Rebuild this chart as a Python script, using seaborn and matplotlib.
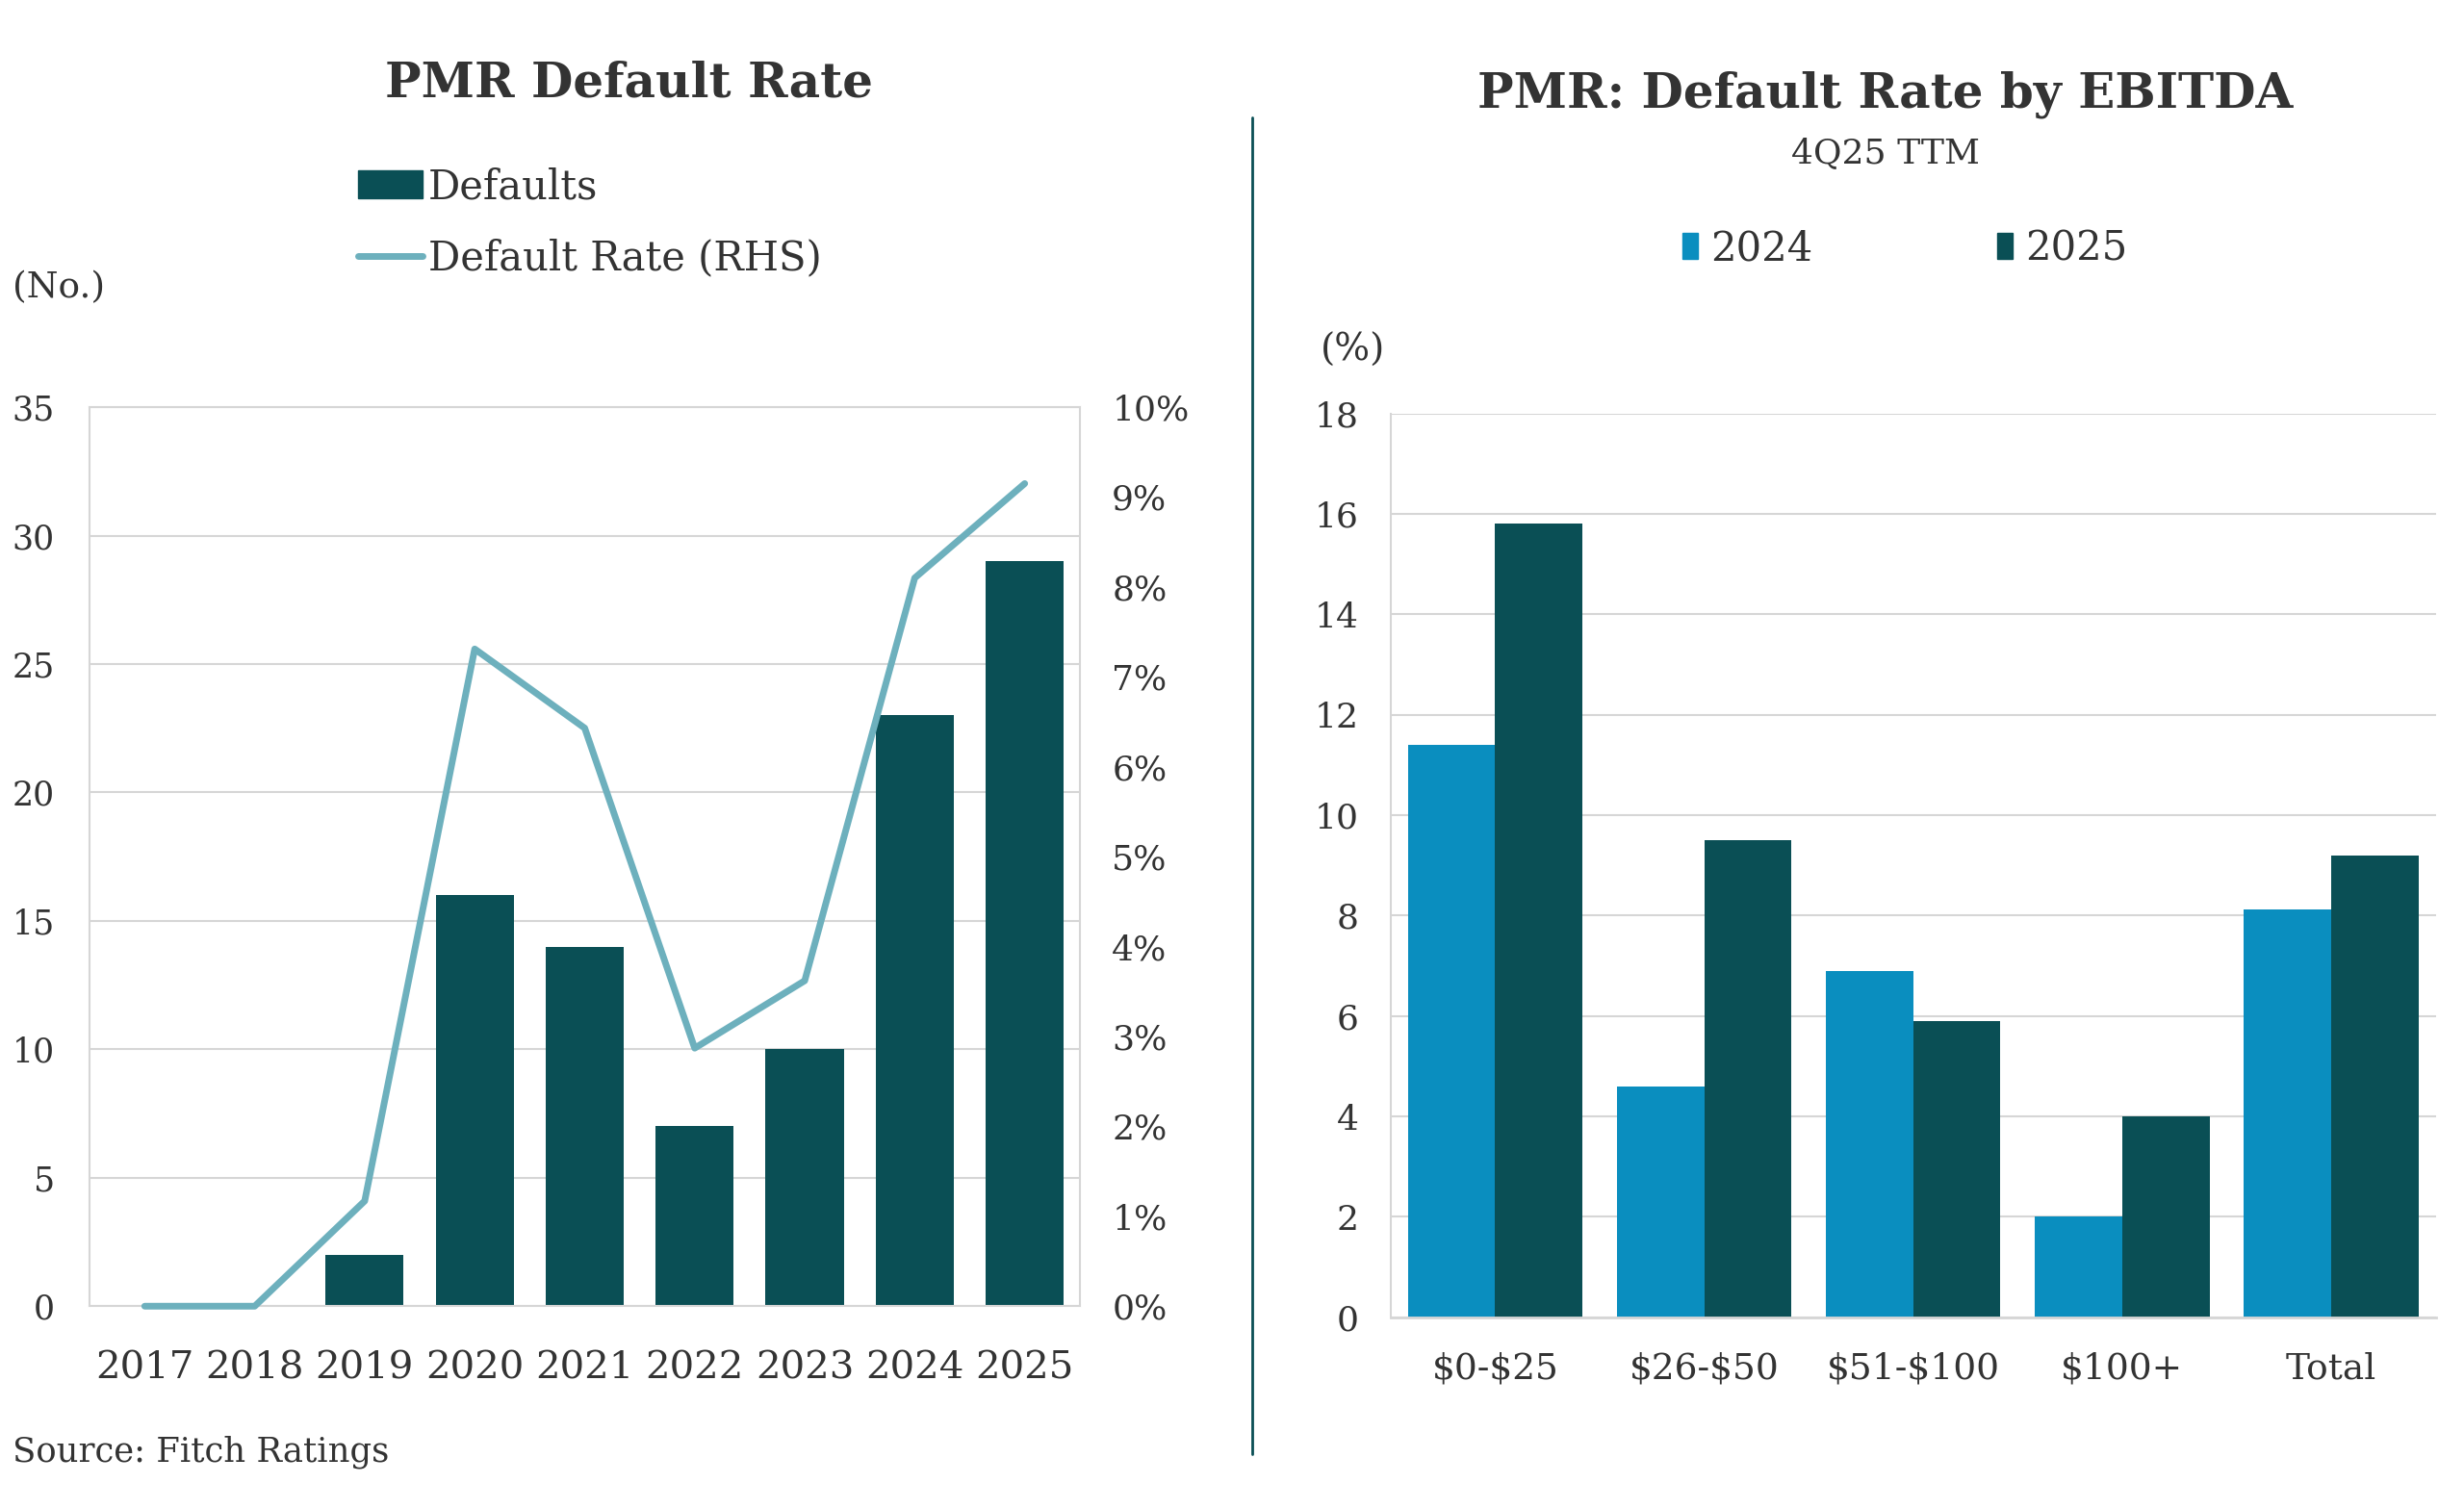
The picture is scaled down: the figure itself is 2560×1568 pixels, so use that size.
import numpy as np
import pandas as pd
import matplotlib.pyplot as plt
import seaborn as sns
from matplotlib.patches import Patch
from matplotlib.lines import Line2D

# ── Style ───────────────────────────────────────────────
sns.set_theme(style="white")
plt.rcParams["font.family"] = ["DejaVu Serif"]
TEXT = "#333333"
DARK = "#0A4F55"
BLUE = "#0A8EBF"
LINE = "#6DB0BD"
GRID = "#D6D6D6"

# ── Data: left chart ────────────────────────────────────
years = ["2017", "2018", "2019", "2020", "2021", "2022", "2023", "2024", "2025"]
defaults = [0, 0, 2, 16, 14, 7, 10, 23, 29]
default_rate = [0.0, 0.0, 1.17, 7.31, 6.43, 2.87, 3.62, 8.10, 9.15]

# ── Data: right chart ───────────────────────────────────
buckets = ["$0-$25", "$26-$50", "$51-$100", "$100+", "Total"]
rate_2024 = [11.4, 4.6, 6.9, 2.0, 8.13]
rate_2025 = [15.8, 9.5, 5.9, 4.0, 9.2]

fig = plt.figure(figsize=(25.6, 15.68), dpi=100)

# ===========================================================
# LEFT: defaults (bars) + default rate (line, RHS)
# ===========================================================
ax = fig.add_axes([0.0364, 0.1344, 0.4018, 0.5958])
sns.barplot(x=years, y=defaults, color=DARK, width=0.71, saturation=1,
            linewidth=0, ax=ax)
ax.set_ylim(0, 35)
ax.set_xlim(-0.5, len(years) - 0.5)
ax.set_yticks(range(0, 36, 5))
ax.yaxis.grid(True, color=GRID, linewidth=1.5)
ax.set_axisbelow(True)
for s in ax.spines.values():
    s.set_color(GRID)
    s.set_linewidth(1.5)
ax.tick_params(axis="y", length=0, pad=26, labelsize=25, labelcolor=TEXT)
ax.tick_params(axis="x", length=0, pad=33, labelsize=29, labelcolor=TEXT)
ax.set_xlabel("")
ax.set_ylabel("")

ax2 = ax.twinx()
sns.lineplot(x=np.arange(len(years)), y=default_rate, color=LINE,
             linewidth=5, ax=ax2, clip_on=False)
ax2.set_ylim(0, 10)
ax2.set_yticks(range(0, 11))
ax2.set_yticklabels([f"{v}%" for v in range(0, 11)])
ax2.tick_params(axis="y", length=0, pad=24, labelsize=26, labelcolor=TEXT)
for s in ax2.spines.values():
    s.set_visible(False)
ax2.set_ylabel("")

fig.text(0.2551, 0.9448, "PMR Default Rate", ha="center", va="center",
         fontsize=36, fontweight="bold", color=TEXT)
fig.text(0.005, 0.8094, "(No.)", ha="left", va="center", fontsize=27, color=TEXT)
fig.text(0.005, 0.0375, "Source: Fitch Ratings", ha="left", va="center",
         fontsize=25.5, color=TEXT)

left_handles = [Patch(facecolor=DARK, edgecolor=DARK),
                Line2D([0], [0], color=LINE, linewidth=5)]
fig.legend(left_handles, ["Defaults", "Default Rate (RHS)"],
           loc="upper left", bbox_to_anchor=(0.1454, 0.8895),
           frameon=False, fontsize=30, labelcolor=TEXT,
           handlelength=1.6, handletextpad=0.15, labelspacing=0.77,
           borderpad=0, borderaxespad=0)

# divider between panels
fig.add_artist(Line2D([0.5083, 0.5083], [0.0365, 0.9219], color=DARK,
                      linewidth=2, transform=fig.transFigure))

# ===========================================================
# RIGHT: default rate by EBITDA bucket
# ===========================================================
df = pd.DataFrame({
    "bucket": buckets * 2,
    "rate": rate_2024 + rate_2025,
    "year": ["2024"] * len(buckets) + ["2025"] * len(buckets),
})

bx = fig.add_axes([0.5644, 0.1271, 0.4241, 0.5989])
sns.barplot(data=df, x="bucket", y="rate", hue="year",
            palette={"2024": BLUE, "2025": DARK}, width=0.835,
            saturation=1, linewidth=0, legend=False, ax=bx)
bx.set_ylim(0, 18)
bx.set_xlim(-0.5, len(buckets) - 0.5)
bx.set_yticks(range(0, 19, 2))
bx.set_xticks(range(len(buckets)))
bx.set_xticklabels([b.replace("$", r"\$") for b in buckets])
bx.yaxis.grid(True, color=GRID, linewidth=1.5)
bx.set_axisbelow(True)
bx.spines["top"].set_visible(False)
bx.spines["right"].set_visible(False)
bx.spines["left"].set_color(GRID)
bx.spines["bottom"].set_color(GRID)
bx.spines["left"].set_linewidth(1.5)
bx.spines["bottom"].set_linewidth(2)
bx.tick_params(axis="y", length=0, pad=24, labelsize=26, labelcolor=TEXT)
bx.tick_params(axis="x", length=0, pad=26, labelsize=27, labelcolor=TEXT)
bx.set_xlabel("")
bx.set_ylabel("")

fig.text(0.7653, 0.9375, "PMR: Default Rate by EBITDA", ha="center", va="center",
         fontsize=36, fontweight="bold", color=TEXT)
fig.text(0.7653, 0.8979, "4Q25 TTM", ha="center", va="center", fontsize=26, color=TEXT)
fig.text(0.5357, 0.7677, "(%)", ha="left", va="center", fontsize=28, color=TEXT)

right_handles = [Patch(facecolor=BLUE, edgecolor=BLUE),
                 Patch(facecolor=DARK, edgecolor=DARK)]
fig.legend(right_handles, ["2024", "2025"], loc="center",
           bbox_to_anchor=(0.773, 0.8354), ncol=2, frameon=False,
           fontsize=30, labelcolor=TEXT, handlelength=0.4, handleheight=0.65,
           handletextpad=0.3, columnspacing=4.6)

plt.savefig("out.png", dpi=100)
plt.close()
